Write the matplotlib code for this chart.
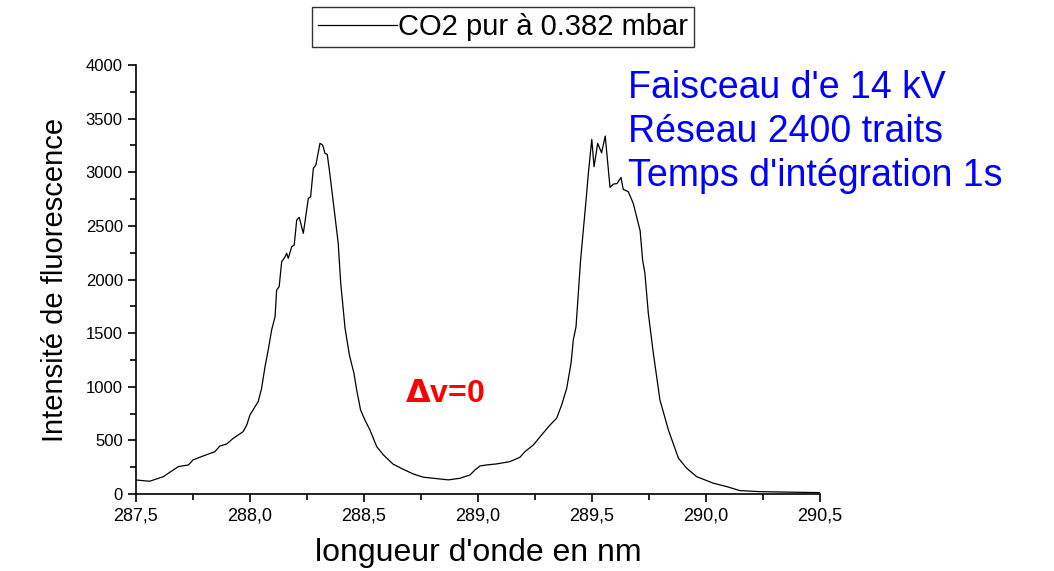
import numpy as np
import matplotlib
matplotlib.use('Agg')
import matplotlib.pyplot as plt
from matplotlib.ticker import MultipleLocator

plt.rcParams['font.family'] = ['Liberation Sans', 'DejaVu Sans']

# Spectre (longueur d'onde en nm, intensité)
wavelength = [287.50, 287.56, 287.62, 287.686, 287.73, 287.75, 287.795, 287.846, 287.868,
              287.898, 287.927, 287.97, 287.986, 288.0, 288.036, 288.051, 288.066, 288.08,
              288.095, 288.11, 288.117, 288.128, 288.139, 288.154, 288.161, 288.168, 288.183,
              288.194, 288.205, 288.216, 288.234, 288.256, 288.266, 288.278, 288.289, 288.307,
              288.319, 288.329, 288.339, 288.351, 288.373, 288.387, 288.398, 288.417, 288.436,
              288.456, 288.468, 288.485, 288.504, 288.526, 288.556, 288.585, 288.628, 288.672,
              288.716, 288.76, 288.87, 288.921, 288.965, 288.987, 289.009, 289.038, 289.082,
              289.14, 289.184, 289.206, 289.243, 289.279, 289.316, 289.345, 289.367, 289.389,
              289.408, 289.418, 289.43, 289.44, 289.45, 289.462, 289.474, 289.484, 289.499,
              289.509, 289.525, 289.542, 289.558, 289.579, 289.594, 289.61, 289.627, 289.637,
              289.659, 289.681, 289.711, 289.722, 289.732, 289.747, 289.769, 289.798, 289.835,
              289.879, 289.915, 289.959, 290.032, 290.091, 290.149, 290.237, 290.383, 290.5]
intensity = [130, 118, 161, 255, 270, 317, 354, 394, 447,
             466, 519, 581, 643, 737, 861, 985, 1187, 1343,
             1529, 1653, 1902, 1933, 2166, 2212, 2244, 2197, 2306,
             2322, 2555, 2580, 2431, 2757, 2772, 3037, 3068, 3270,
             3254, 3177, 3167, 2974, 2586, 2338, 1965, 1545, 1296,
             1125, 970, 783, 690, 597, 441, 364, 277, 230,
             186, 156, 131, 146, 177, 224, 261, 270, 280,
             301, 342, 394, 457, 550, 643, 706, 830, 985,
             1218, 1436, 1560, 1871, 2182, 2462, 2741, 2990, 3307,
             3052, 3270, 3182, 3338, 2860, 2890, 2895, 2952, 2841,
             2819, 2710, 2455, 2182, 2058, 1685, 1312, 876, 597,
             333, 240, 161, 100, 68, 31, 21, 16, 12]

legend_label = 'CO2 pur à 0.382 mbar'
info_lines = ["Faisceau d'e 14 kV", "Réseau 2400 traits", "Temps d'intégration 1s"]

fig = plt.figure(figsize=(10.54, 5.71), dpi=100)
ax = fig.add_axes([0.129, 0.135, 0.649, 0.751])

line, = ax.plot(wavelength, intensity, color='black', linewidth=0.9, label=legend_label)

ax.set_xlim(287.5, 290.5)
ax.set_ylim(0, 4000)
ax.xaxis.set_major_locator(MultipleLocator(0.5))
ax.xaxis.set_minor_locator(MultipleLocator(0.25))
ax.yaxis.set_major_locator(MultipleLocator(500))
ax.yaxis.set_minor_locator(MultipleLocator(250))
ax.set_xticklabels([f'{v:.1f}'.replace('.', ',') for v in ax.get_xticks()])

ax.spines['top'].set_visible(False)
ax.spines['right'].set_visible(False)
ax.spines['left'].set_linewidth(1.2)
ax.spines['bottom'].set_linewidth(1.2)
ax.tick_params(which='major', direction='out', length=6, width=1.2, labelsize=13)
ax.tick_params(which='minor', direction='out', length=4, width=1.2)
ax.tick_params(axis='y', labelsize=12)

ax.set_xlabel("longueur d'onde en nm", fontsize=23, labelpad=10)
ax.set_ylabel('Intensité de fluorescence', fontsize=21, labelpad=12)

leg = fig.legend(handles=[line], loc='center left', bbox_to_anchor=(0.296, 0.953),
                 fontsize=21, frameon=True, fancybox=False, edgecolor='black',
                 handlelength=2.7, borderpad=0.2, handletextpad=0.05, borderaxespad=0)
leg.get_frame().set_linewidth(1.0)

for i, txt in enumerate(info_lines):
    fig.text(0.596, 0.846 - i * 0.0775, txt, color='#0000ff', fontsize=27, va='center')

ax.text(288.68, 930, r'$\mathbf{\Delta}$v=0', color='red', fontsize=23,
        fontweight='bold', va='center')

fig.savefig('out.png', dpi=100)
